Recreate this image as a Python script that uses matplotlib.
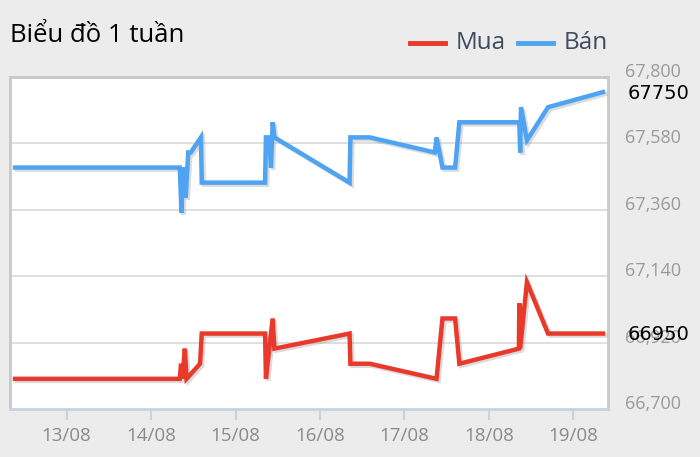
import matplotlib
matplotlib.use("Agg")
import matplotlib.pyplot as plt
import matplotlib.patheffects as pe

plt.rcParams['font.family'] = ['Open Sans', 'DejaVu Sans']

# Time axis: fractional day of August
tick_days = [13, 14, 15, 16, 17, 18, 19]
tick_labels = ["13/08", "14/08", "15/08", "16/08", "17/08", "18/08", "19/08"]

ban_t = [12.39, 14.34, 14.36, 14.38, 14.41, 14.44, 14.47, 14.59, 14.60, 15.35, 15.36,
         15.40, 15.42, 15.44, 15.46, 16.35, 16.36, 16.59, 17.36, 17.38, 17.45, 17.60,
         17.65, 18.36, 18.37, 18.38, 18.45, 18.70, 19.35]
ban_v = [67500, 67500, 67350, 67500, 67400, 67550, 67550, 67600, 67450, 67450, 67600,
         67600, 67500, 67650, 67600, 67450, 67600, 67600, 67550, 67600, 67500, 67500,
         67650, 67650, 67550, 67700, 67590, 67700, 67750]

mua_t = [12.39, 14.34, 14.355, 14.37, 14.40, 14.42, 14.58, 14.60, 15.35, 15.36, 15.40,
         15.44, 15.46, 16.35, 16.36, 16.59, 17.38, 17.45, 17.60, 17.65, 18.355, 18.36,
         18.37, 18.45, 18.70, 19.35]
mua_v = [66800, 66800, 66850, 66800, 66900, 66800, 66850, 66950, 66950, 66800, 66900,
         67000, 66900, 66950, 66850, 66850, 66800, 67000, 67000, 66850, 66900, 67050,
         66900, 67120, 66950, 66950]

y_ticks = [66700, 66920, 67140, 67360, 67580, 67800]
y_tick_labels = ["66,700", "66,920", "67,140", "67,360", "67,580", "67,800"]

last_ban = 67750
last_mua = 66950

W, H = 700, 457
fig = plt.figure(figsize=(7, 4.57), dpi=100, facecolor="#ececec")
ax = fig.add_axes([10 / W, (H - 409) / H, 598 / W, 332 / H])
ax.set_facecolor("white")

xmin, xmax = 12.33, 19.41
ymin, ymax = 66700, 67800
ax.set_xlim(xmin, xmax)
ax.set_ylim(ymin, ymax)

for yv in y_ticks[1:-1]:
    ax.axhline(yv, color="#d9d9d9", lw=1.2, zorder=1)

shadow = [pe.SimpleLineShadow(offset=(1.5, -1.5), shadow_color="#999999", alpha=0.35), pe.Normal()]
ax.plot(mua_t, mua_v, color="#e8392a", lw=3.2, solid_joinstyle="miter", zorder=3,
        path_effects=shadow)
ax.plot(ban_t, ban_v, color="#4ea3f3", lw=3.2, solid_joinstyle="miter", zorder=3,
        path_effects=shadow)

for s in ["top", "right", "left"]:
    ax.spines[s].set_color("#c8c8c8")
    ax.spines[s].set_linewidth(2)
ax.spines["bottom"].set_color("#c5d3e3")
ax.spines["bottom"].set_linewidth(2)

ax.set_yticks([])
ax.set_xticks(tick_days)
ax.set_xticklabels(tick_labels)
ax.tick_params(axis="x", length=8, width=1.5, color="#c5d3e3", labelcolor="#8a8a8a",
               labelsize=13.5, pad=5)

# right y labels (slightly above grid lines)
for yv, lab in zip(y_ticks, y_tick_labels):
    ax.annotate(lab, xy=(1, yv), xycoords=("axes fraction", "data"),
                xytext=(17, 5), textcoords="offset pixels", ha="left", va="center",
                color="#9a9a9a", fontsize=13)

for yv in [last_ban, last_mua]:
    ax.annotate(str(yv), xy=(1, yv), xycoords=("axes fraction", "data"),
                xytext=(20, -1), textcoords="offset pixels", ha="left", va="center",
                color="black", fontsize=14, family=["DejaVu Sans"])

fig.text(10 / W, 1 - 35 / H, "Biểu đồ 1 tuần", fontsize=18.5, color="black",
         ha="left", va="center")

# legend
ly = 1 - 43 / H
fig.add_artist(plt.Line2D([410 / W, 445 / W], [ly, ly], color="#e8392a", lw=3.5))
fig.text(456 / W, ly, "Mua", fontsize=17.5, color="#3e4a5e", ha="left", va="center")
fig.add_artist(plt.Line2D([518 / W, 553 / W], [ly, ly], color="#4ea3f3", lw=3.5))
fig.text(564 / W, ly, "Bán", fontsize=17.5, color="#3e4a5e", ha="left", va="center")

fig.savefig("out.png", dpi=100, facecolor=fig.get_facecolor())
